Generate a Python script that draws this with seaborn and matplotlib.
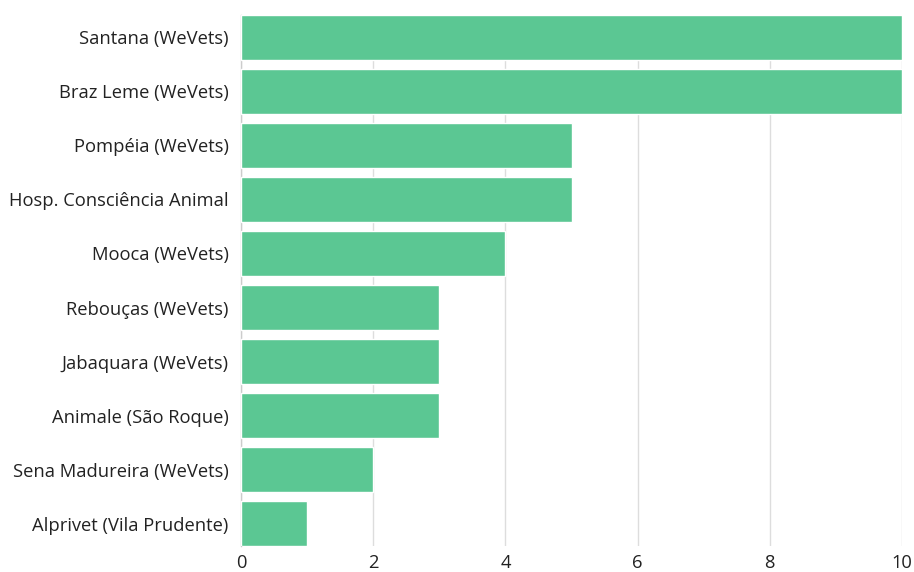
import matplotlib
matplotlib.use("Agg")
import matplotlib.pyplot as plt
import seaborn as sns
import pandas as pd

categories = [
    "Santana (WeVets)",
    "Braz Leme (WeVets)",
    "Pompéia (WeVets)",
    "Hosp. Consciência Animal",
    "Mooca (WeVets)",
    "Rebouças (WeVets)",
    "Jabaquara (WeVets)",
    "Animale (São Roque)",
    "Sena Madureira (WeVets)",
    "Alprivet (Vila Prudente)",
]
values = [10, 10, 5, 5, 4, 3, 3, 3, 2, 1]
x_ticks = [0, 2, 4, 6, 8, 10]

sns.set_theme(style="white")
plt.rcParams["font.family"] = ["Open Sans", "DejaVu Sans"]

df = pd.DataFrame({"name": categories, "value": values})

W, H = 914, 572
fig = plt.figure(figsize=(W / 100, H / 100), dpi=100)
ax = fig.add_axes([241 / W, 1 - 546 / H, (902 - 241) / W, (546 - 15) / H])

bw = 0.83
sns.barplot(data=df, y="name", x="value", orient="h", color="#5BC793",
            width=bw, saturation=1, ax=ax, zorder=3)

ax.set_xlim(0, 10)
ax.set_ylim(len(categories) - 1 + bw / 2, -bw / 2)
ax.set_xticks(x_ticks)
ax.set_xticklabels([str(t) for t in x_ticks])
ax.xaxis.grid(True, color="#dddddd", linewidth=1, zorder=0)
ax.yaxis.grid(False)
for s in ["top", "right", "bottom"]:
    ax.spines[s].set_visible(False)
ax.spines["left"].set_color("#cccccc")
ax.spines["left"].set_linewidth(1)
ax.set_xlabel("")
ax.set_ylabel("")
ax.tick_params(axis="both", length=0, labelsize=13.2, colors="#222222")
ax.tick_params(axis="y", pad=9)
ax.tick_params(axis="x", pad=6)
ax.set_facecolor("white")

fig.savefig("out.png", dpi=100, facecolor="white")
